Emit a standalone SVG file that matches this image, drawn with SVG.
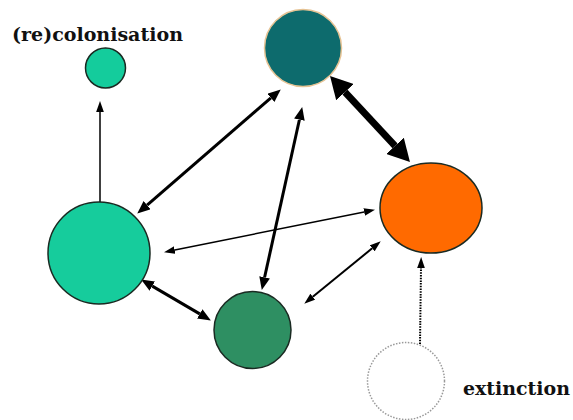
<svg xmlns="http://www.w3.org/2000/svg" width="573" height="420" viewBox="0 0 573 420">
<style>
.lbl{font-family:"DejaVu Serif","Liberation Serif",serif;font-weight:bold;font-size:18px;fill:#111}
.node{stroke:#1a2a22;stroke-width:1.5}
.c{fill:none;stroke:#000}
</style>
<defs>
<marker id="aThick" markerUnits="userSpaceOnUse" markerWidth="22" markerHeight="24" refX="0" refY="12" orient="auto-start-reverse" viewBox="0 0 22 24"><path d="M0,0 L22,12 L0,24 Z" fill="#000"/></marker>
<marker id="aMed" markerUnits="userSpaceOnUse" markerWidth="13" markerHeight="11" refX="0" refY="5" orient="auto-start-reverse" viewBox="0 0 12 10"><path d="M0,0 L12,5 L0,10 Z" fill="#000"/></marker>
<marker id="aThin" markerUnits="userSpaceOnUse" markerWidth="11" markerHeight="8" refX="0" refY="3.5" orient="auto-start-reverse" viewBox="0 0 10 7"><path d="M0,0 L10,3.5 L0,7 Z" fill="#000"/></marker>
</defs>
<rect width="573" height="420" fill="#fff"/>
<g id="connectors">
<line class="c" x1="100" y1="202" x2="100" y2="112" stroke-width="1.5" marker-end="url(#aThin)"/>
<line class="c" x1="147.1" y1="205.1" x2="270.9" y2="97.9" stroke-width="3" marker-start="url(#aMed)" marker-end="url(#aMed)"/>
<line class="c" x1="299.4" y1="119.7" x2="264.6" y2="277.3" stroke-width="3" marker-start="url(#aMed)" marker-end="url(#aMed)"/>
<line class="c" x1="345" y1="92.1" x2="395" y2="145.9" stroke-width="7" marker-start="url(#aThick)" marker-end="url(#aThick)"/>
<line class="c" x1="364.2" y1="212" x2="174.8" y2="250" stroke-width="1.5" marker-start="url(#aThin)" marker-end="url(#aThin)"/>
<line class="c" x1="152.3" y1="286.1" x2="199.7" y2="313.9" stroke-width="3" marker-start="url(#aMed)" marker-end="url(#aMed)"/>
<line class="c" x1="372.2" y1="248.3" x2="312.8" y2="296.7" stroke-width="2" marker-start="url(#aThin)" marker-end="url(#aThin)"/>
<line class="c" x1="420" y1="344" x2="421" y2="268" stroke-width="2" stroke-dasharray="1.5 1.2" marker-end="url(#aThin)"/>
</g>
<g id="small-node"><circle class="node" cx="105.5" cy="68" r="20" fill="#14CC9C"/></g>
<g id="top-node"><circle cx="303" cy="48" r="38.5" fill="#0D6B6D" stroke="#E6C394" stroke-width="1.5"/></g>
<g id="orange-node"><ellipse class="node" cx="431" cy="208" rx="51" ry="45" fill="#FF6A00" stroke="#3a1a00"/></g>
<g id="big-node"><circle class="node" cx="99" cy="253" r="51" fill="#16CC9C"/></g>
<g id="green-node"><circle class="node" cx="252.5" cy="330" r="38.5" fill="#2E8F62"/></g>
<g id="empty-node"><circle cx="406" cy="381" r="38.5" fill="#fff" stroke="#999" stroke-width="1.5" stroke-dasharray="1.5 1.5"/></g>
<g id="labels">
<text class="lbl" x="12" y="41" textLength="171" lengthAdjust="spacingAndGlyphs">(re)colonisation</text>
<text class="lbl" x="463" y="395" textLength="107" lengthAdjust="spacingAndGlyphs">extinction</text>
</g>
</svg>
